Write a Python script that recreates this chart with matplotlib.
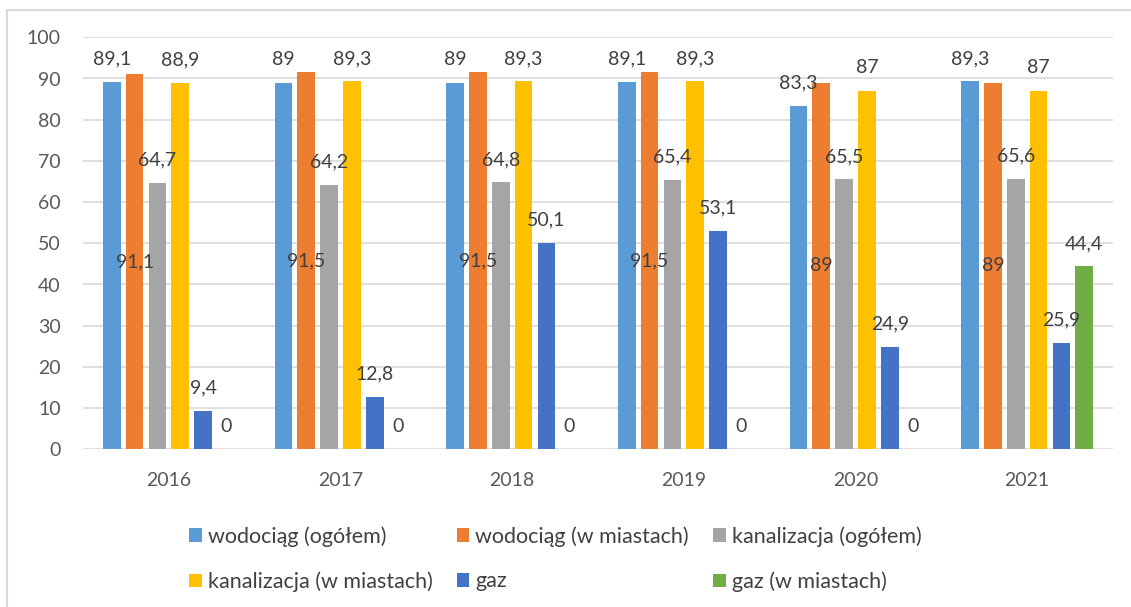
import matplotlib
matplotlib.use("Agg")
import matplotlib.pyplot as plt
import numpy as np
from matplotlib.patches import Rectangle

years = ["2016", "2017", "2018", "2019", "2020", "2021"]
series_names = ["wodociąg (ogółem)", "wodociąg (w miastach)", "kanalizacja (ogółem)",
                "kanalizacja (w miastach)", "gaz", "gaz (w miastach)"]
wodociag_ogolem = [89.1, 89, 89, 89.1, 83.3, 89.3]
wodociag_miasta = [91.1, 91.5, 91.5, 91.5, 89, 89]
kanalizacja_ogolem = [64.7, 64.2, 64.8, 65.4, 65.5, 65.6]
kanalizacja_miasta = [88.9, 89.3, 89.3, 89.3, 87, 87]
gaz = [9.4, 12.8, 50.1, 53.1, 24.9, 25.9]
gaz_miasta = [0, 0, 0, 0, 0, 44.4]

series = [wodociag_ogolem, wodociag_miasta, kanalizacja_ogolem,
          kanalizacja_miasta, gaz, gaz_miasta]
colors = ["#5B9BD5", "#ED7D31", "#A5A5A5", "#FFC000", "#4472C4", "#70AD47"]

plt.rcParams['font.family'] = ['Lato', 'DejaVu Sans']
TXT = "#404040"
AX = "#595959"

fig = plt.figure(figsize=(11.31, 6.07), dpi=100)
ax = fig.add_axes([83/1131, 1-449.3/607, (1113-83)/1131, (449.3-37.3)/607])

x = np.arange(len(years))
step = 0.133
width = 0.102
containers = []
for i, (vals, c, name) in enumerate(zip(series, colors, series_names)):
    pos = x + (i - 2.5) * step
    bc = ax.bar(pos, vals, width, color=c, label=name, zorder=3)
    containers.append(bc)
    for p, v in zip(pos, vals):
        lab = f"{v:g}".replace('.', ',')
        if i == 1:
            ax.annotate(lab, (p, v / 2), ha='center', va='center',
                        fontsize=14, color=TXT, zorder=4)
        else:
            ax.annotate(lab, (p, v), xytext=(0, 16.5), textcoords='offset points',
                        ha='center', va='center', fontsize=14, color=TXT, zorder=4)

ax.set_xlim(-0.5, 5.5)
ax.set_ylim(0, 100)
ax.set_yticks(range(0, 101, 10))
ax.set_xticks(x)
ax.set_xticklabels(years)
ax.tick_params(axis='both', length=0, labelsize=14, colors=AX)
ax.tick_params(axis='y', pad=16)
ax.tick_params(axis='x', pad=16)
ax.grid(axis='y', color="#D9D9D9", linewidth=1.2, zorder=0)
for s in ax.spines.values():
    s.set_visible(False)

order = [0, 3, 1, 4, 2, 5]
h = [containers[k] for k in order]
l = [series_names[k] for k in order]
leg = fig.legend(h, l, ncol=3, loc='upper left', bbox_to_anchor=(189/1131, 1-526/607),
                 frameon=False, fontsize=15.5, labelcolor=TXT, handlelength=0.6,
                 handleheight=0.6, handletextpad=0.28, columnspacing=1.1,
                 labelspacing=1.15, borderpad=0, borderaxespad=0)

# chart area border
fig.patches.append(Rectangle((7/1131, -0.1), 1.2, 1 - 10/607 + 0.1, transform=fig.transFigure,
                             fill=False, edgecolor="#D9D9D9", linewidth=1.5))

fig.savefig("out.png", dpi=100)
